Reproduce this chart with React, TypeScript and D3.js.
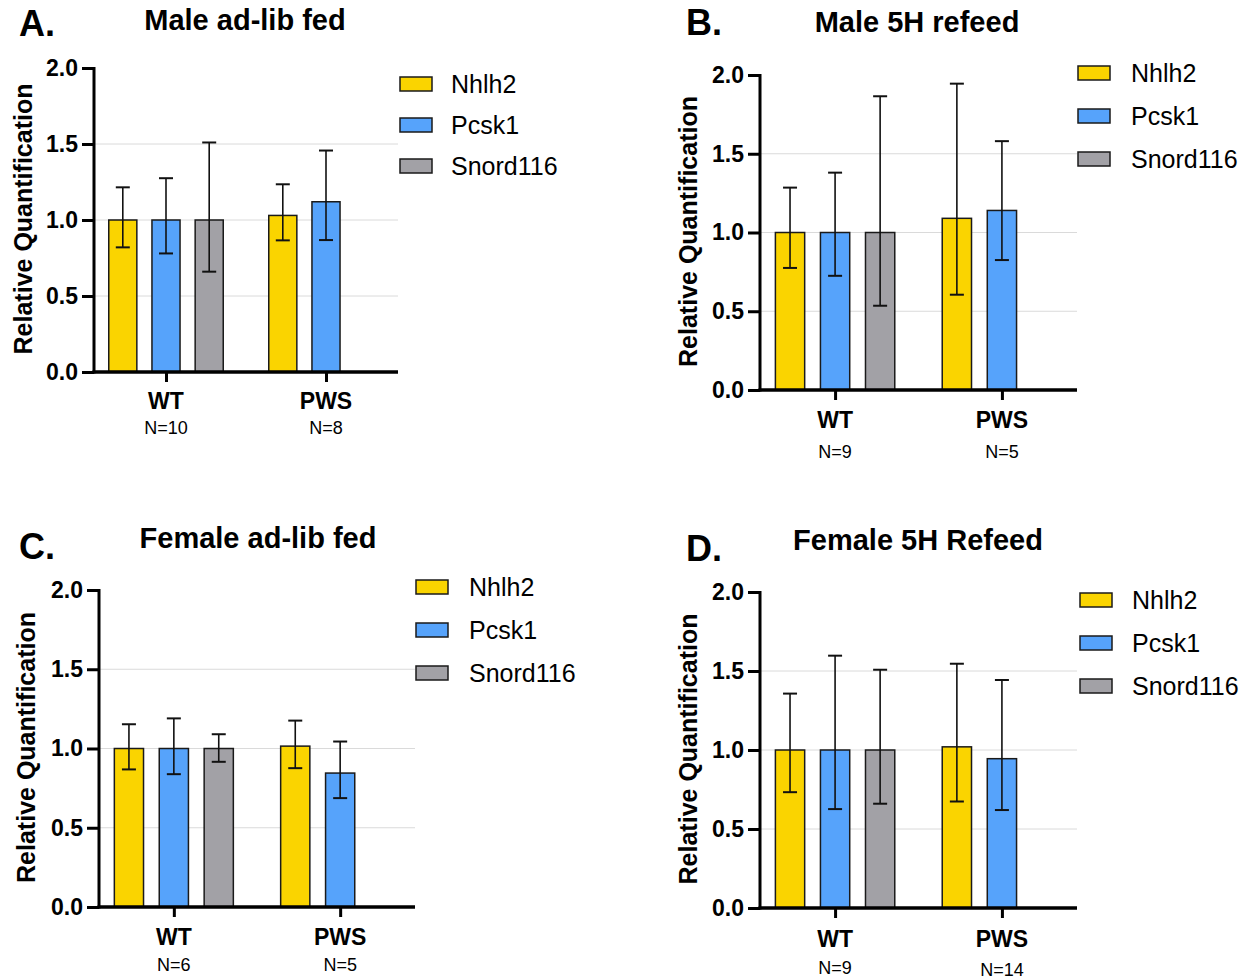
import React, { useEffect, useRef } from "react";
import * as d3 from "d3";

// data
const categories = ["WT", "PWS"];
const series = ["Nhlh2", "Pcsk1", "Snord116"];
const yTicks = [0, 0.5, 1.0, 1.5, 2.0];
const letters = ["A.", "B.", "C.", "D."];
const titles = ["Male ad-lib fed", "Male 5H refeed", "Female ad-lib fed", "Female 5H Refeed"];

// [WT..., PWS...] per series, null = not measured
const aMean = [[1.0, 1.0, 1.0], [1.03, 1.12, null]];
const aLow = [[0.82, 0.78, 0.66], [0.866, 0.868, null]];
const aHigh = [[1.215, 1.275, 1.51], [1.235, 1.457, null]];
const aN = ["N=10", "N=8"];

const bMean = [[1.0, 1.0, 1.0], [1.09, 1.14, null]];
const bLow = [[0.775, 0.725, 0.535], [0.605, 0.825, null]];
const bHigh = [[1.285, 1.38, 1.865], [1.945, 1.58, null]];
const bN = ["N=9", "N=5"];

const cMean = [[1.0, 1.0, 1.0], [1.015, 0.845, null]];
const cLow = [[0.868, 0.838, 0.916], [0.876, 0.687, null]];
const cHigh = [[1.153, 1.19, 1.09], [1.176, 1.044, null]];
const cN = ["N=6", "N=5"];

const dMean = [[1.0, 1.0, 1.0], [1.02, 0.945, null]];
const dLow = [[0.733, 0.626, 0.66], [0.674, 0.62, null]];
const dHigh = [[1.357, 1.597, 1.508], [1.546, 1.443, null]];
const dN = ["N=9", "N=14"];

const colors = ["#FAD400", "#56A3FB", "#A2A1A6"];
const FONT = "'Liberation Sans', Arial, sans-serif";

type Layout = {
  x0: number; x1: number; yTop: number; yBot: number;
  legX: number; legY: number; legGap: number; legTx: number;
  titleX: number; titleY: number; letterX: number; letterY: number;
  ylabX: number; catY: number; nY: number[];
};

const layouts: Layout[] = [
  { x0: 94, x1: 398, yTop: 68, yBot: 372, legX: 400, legY: 77, legGap: 41, legTx: 51, titleX: 245, titleY: 30, letterX: 19, letterY: 36, ylabX: 32, catY: 409, nY: [434, 434] },
  { x0: 760, x1: 1077, yTop: 75, yBot: 390, legX: 1078, legY: 66, legGap: 43, legTx: 53, titleX: 917, titleY: 32, letterX: 686, letterY: 35, ylabX: 697, catY: 428, nY: [458, 458] },
  { x0: 99, x1: 415, yTop: 590, yBot: 907, legX: 416, legY: 580, legGap: 43, legTx: 53, titleX: 258, titleY: 548, letterX: 19, letterY: 559, ylabX: 35, catY: 945, nY: [971, 971] },
  { x0: 760, x1: 1077, yTop: 592, yBot: 908, legX: 1080, legY: 593, legGap: 43, legTx: 52, titleX: 918, titleY: 550, letterX: 686, letterY: 561, ylabX: 697, catY: 947, nY: [974, 976] },
];

const panels = [
  { mean: aMean, low: aLow, high: aHigh, n: aN },
  { mean: bMean, low: bLow, high: bHigh, n: bN },
  { mean: cMean, low: cLow, high: cHigh, n: cN },
  { mean: dMean, low: dLow, high: dHigh, n: dN },
];

function drawPanel(g: d3.Selection<SVGGElement, unknown, null, undefined>, i: number) {
  const L = layouts[i];
  const p = panels[i];

  const y = d3.scaleLinear().domain([0, 2]).range([L.yBot, L.yTop]);
  const x = d3.scalePoint<string>().domain(categories).range([L.x0, L.x1]).padding(0.45);
  const slot = x.step() * 0.27;
  const xs = d3.scaleBand<string>().domain(series)
    .range([-1.5 * slot, 1.5 * slot]).paddingInner(0.35).paddingOuter(0.175);

  // grid
  g.append("g").selectAll("line").data(yTicks.filter((t) => t > 0 && t < 2)).enter()
    .append("line")
    .attr("x1", L.x0).attr("x2", L.x1)
    .attr("y1", (d) => y(d)).attr("y2", (d) => y(d))
    .attr("stroke", "#DADADA").attr("stroke-width", 1);

  // bars
  const bars: { c: string; s: string; m: number; lo: number; hi: number; k: number }[] = [];
  categories.forEach((c, ci) => {
    series.forEach((s, si) => {
      const m = p.mean[ci][si];
      if (m == null) return;
      bars.push({ c, s, m, lo: p.low[ci][si] as number, hi: p.high[ci][si] as number, k: si });
    });
  });

  const bg = g.append("g").selectAll("g").data(bars).enter().append("g")
    .attr("transform", (d) => `translate(${(x(d.c) as number) + (xs(d.s) as number)},0)`);
  bg.append("rect")
    .attr("x", 0).attr("width", xs.bandwidth())
    .attr("y", (d) => y(d.m)).attr("height", (d) => y(0) - y(d.m))
    .attr("fill", (d) => colors[d.k]).attr("stroke", "#1a1a1a").attr("stroke-width", 1.5);
  const cx = xs.bandwidth() / 2;
  bg.append("line")
    .attr("x1", cx).attr("x2", cx).attr("y1", (d) => y(d.lo)).attr("y2", (d) => y(d.hi))
    .attr("stroke", "#111").attr("stroke-width", 1.6);
  bg.selectAll("line.cap").data((d) => [d.lo, d.hi]).enter().append("line")
    .attr("class", "cap")
    .attr("x1", cx - 7).attr("x2", cx + 7)
    .attr("y1", (v) => y(v)).attr("y2", (v) => y(v))
    .attr("stroke", "#111").attr("stroke-width", 2);

  // y axis
  const yAxis = d3.axisLeft(y).tickValues(yTicks).tickFormat(d3.format(".1f")).tickSize(12).tickPadding(4);
  const ya = g.append("g").attr("transform", `translate(${L.x0},0)`).call(yAxis);
  ya.select(".domain").attr("stroke", "#000").attr("stroke-width", 3).attr("d", `M0,${L.yTop - 1}V${L.yBot + 1.5}`);
  ya.selectAll(".tick line").attr("stroke", "#000").attr("stroke-width", 3);
  ya.selectAll(".tick text").attr("font-family", FONT).attr("font-weight", "bold")
    .attr("font-size", 23).attr("fill", "#000");

  // x axis
  const xAxis = d3.axisBottom(x).tickSize(10).tickFormat(() => "");
  const xa = g.append("g").attr("transform", `translate(0,${L.yBot})`).call(xAxis);
  xa.select(".domain").attr("stroke", "#000").attr("stroke-width", 3.5).attr("d", `M${L.x0 - 1.5},0H${L.x1}`);
  xa.selectAll(".tick line").attr("stroke", "#000").attr("stroke-width", 3);

  categories.forEach((c, ci) => {
    g.append("text").attr("x", x(c) as number).attr("y", L.catY)
      .attr("text-anchor", "middle").attr("font-family", FONT).attr("font-weight", "bold")
      .attr("font-size", 23).text(c);
    g.append("text").attr("x", x(c) as number).attr("y", L.nY[ci])
      .attr("text-anchor", "middle").attr("font-family", FONT)
      .attr("font-size", 18).text(p.n[ci]);
  });

  // y label
  g.append("text")
    .attr("transform", `translate(${L.ylabX},${(L.yTop + L.yBot) / 2 - 1}) rotate(-90)`)
    .attr("text-anchor", "middle").attr("font-family", FONT).attr("font-weight", "bold")
    .attr("font-size", 25).text("Relative Quantification");

  // title + letter
  g.append("text").attr("x", L.titleX).attr("y", L.titleY)
    .attr("text-anchor", "middle").attr("font-family", FONT).attr("font-weight", "bold")
    .attr("font-size", 29).text(titles[i]);
  g.append("text").attr("x", L.letterX).attr("y", L.letterY)
    .attr("font-family", FONT).attr("font-weight", "bold")
    .attr("font-size", 36).text(letters[i]);

  // legend
  const lg = g.append("g").selectAll("g").data(series).enter().append("g")
    .attr("transform", (d, k) => `translate(${L.legX},${L.legY + k * L.legGap})`);
  lg.append("rect").attr("width", 32).attr("height", 14)
    .attr("fill", (d, k) => colors[k]).attr("stroke", "#1a1a1a").attr("stroke-width", 1.5);
  lg.append("text").attr("x", L.legTx).attr("y", 16)
    .attr("font-family", FONT).attr("font-size", 25).text((d) => d);
}

export default function App() {
  const ref = useRef<SVGSVGElement>(null);

  useEffect(() => {
    const svg = d3.select(ref.current);
    svg.selectAll("*").remove();
    layouts.forEach((_, i) => {
      const g = svg.append("g");
      drawPanel(g as any, i);
    });
  }, []);

  return (
    <svg
      ref={ref}
      width={1252}
      height={979}
      style={{ position: "absolute", left: 0, top: 0, background: "#fff" }}
    />
  );
}
